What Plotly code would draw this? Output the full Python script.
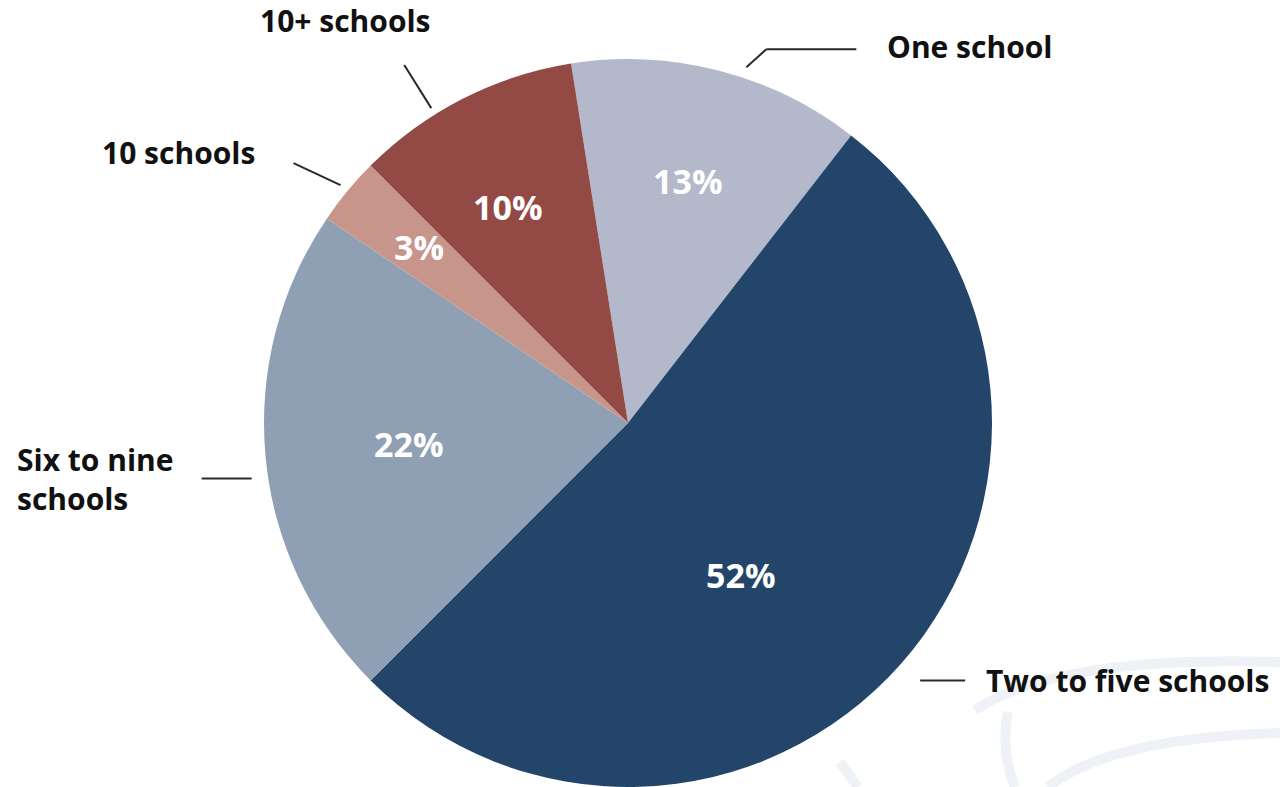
import math
import plotly.graph_objects as go

# ---- data ----
labels = ["One school", "Two to five schools", "Six to nine schools", "10 schools", "10+ schools"]
display_labels = ["One school", "Two to five schools", "Six to nine<br>schools", "10 schools", "10+ schools"]
values = [13, 52, 22, 3, 10]
colors = ["#b3b8cb", "#234569", "#8fa0b5", "#c8958a", "#934a45"]

W, H = 1280, 787
FONT = "Open Sans"

# pie geometry (pixels)
R = 364
cx, cy = 628, 423
dom_x = [(cx - R) / W, (cx + R) / W]
dom_y = [max(0, 1 - (cy + R) / H), min(1, 1 - (cy - R) / H)]
rotation = -9


def px(x):
    return x / W


def py(y):
    return 1 - y / H


total = sum(values)
mids = []
acc = rotation
for v in values:
    ang = 360 * v / total
    mids.append(acc + ang / 2)
    acc += ang


def polar(angle_deg, r):
    a = math.radians(angle_deg)
    return cx + r * math.sin(a), cy - r * math.cos(a)


fig = go.Figure()
fig.add_trace(go.Pie(
    labels=labels,
    values=values,
    sort=False,
    direction="clockwise",
    rotation=rotation,
    marker=dict(colors=colors, line=dict(width=0)),
    textinfo="none",
    domain=dict(x=dom_x, y=dom_y),
    showlegend=False,
    hoverinfo="label+percent",
))

shapes = []
annotations = []
line_style = dict(color="#2a2a2a", width=2)

# percentage labels inside slices: (radius fraction, angle offset)
pct_pos = [(0.685, -0.5), (0.52, 12), (0.605, 0), (0.75, 0.5), (0.68, -2)]
for v, m, (rf, da) in zip(values, mids, pct_pos):
    x, y = polar(m + da, R * rf)
    annotations.append(dict(text=f"{round(100 * v / total)}%", x=px(x), y=py(y),
                            xref="paper", yref="paper", xanchor="center", yanchor="middle",
                            showarrow=False,
                            font=dict(family=FONT, size=34, color="white", weight="bold")))


def add_line(p0, p1):
    shapes.append(dict(type="line", xref="paper", yref="paper",
                       x0=px(p0[0]), y0=py(p0[1]), x1=px(p1[0]), y1=py(p1[1]),
                       line=line_style))


def add_label(text, x, y, xanchor, align="left"):
    annotations.append(dict(text=text, x=px(x), y=py(y), xref="paper", yref="paper",
                            xanchor=xanchor, yanchor="middle", showarrow=False, align=align,
                            font=dict(family=FONT, size=30, color="#111111", weight="bold")))


# One school
s = polar(mids[0] + 4, R * 1.03)
k = (s[0] + 20, s[1] - 18)
e = (k[0] + 90, k[1])
add_line(s, k)
add_line(k, e)
add_label(display_labels[0], e[0] + 29, e[1] - 3, "left")

# Two to five
s = polar(mids[1], R * 1.07)
e = (s[0] + 45, s[1])
add_line(s, e)
add_label(display_labels[1], e[0] + 19, e[1], "left")

# Six to nine
s = polar(mids[2] - 3, R * 1.045)
e = (s[0] - 50, s[1])
add_line(s, e)
add_label(display_labels[2], 15, e[1], "left")

# 10 schools
s = polar(mids[3], R * 1.025)
e = (s[0] - 47, s[1] - 22)
add_line(s, e)
add_label(display_labels[3], e[0] - 37, e[1] - 11, "right")

# 10+ schools
s = polar(mids[4] - 5, R * 1.02)
e = polar(mids[4] - 5, R * 1.16)
add_line(s, e)
add_label(display_labels[4], e[0] - 59, e[1] - 44, "center")

# faint watermark swooshes (decoration)
wm = dict(color="#eef1f6", width=10)
for path in [
    f"M {px(975)},{py(710)} Q {px(1060)},{py(655)} {px(1280)},{py(662)}",
    f"M {px(1008)},{py(712)} Q {px(1000)},{py(750)} {px(1015)},{py(787)}",
    f"M {px(1048)},{py(787)} Q {px(1110)},{py(738)} {px(1280)},{py(733)}",
    f"M {px(840)},{py(762)} L {px(858)},{py(787)}",
]:
    shapes.insert(0, dict(type="path", xref="paper", yref="paper", layer="below",
                          path=path, line=wm))

fig.update_layout(
    width=W, height=H,
    margin=dict(l=0, r=0, t=0, b=0),
    paper_bgcolor="white",
    plot_bgcolor="white",
    shapes=shapes,
    annotations=annotations,
)

fig.write_html("out.html",
               config={"displayModeBar": False},
               post_script="document.body.style.margin='0';document.body.style.overflow='hidden';")
